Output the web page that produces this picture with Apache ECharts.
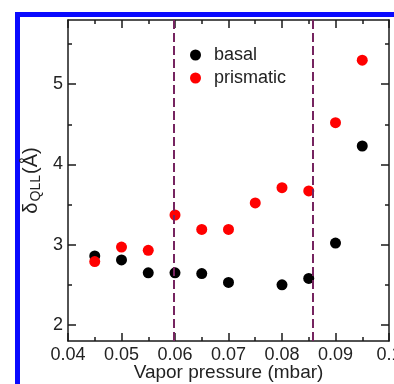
<!DOCTYPE html>
<html>
<head>
<meta charset="utf-8">
<script src="https://cdn.jsdelivr.net/npm/echarts@6/dist/echarts.min.js"></script>
<style>
  html, body { margin: 0; padding: 0; background: #fff; }
  #chart { width: 394px; height: 384px; }
</style>
</head>
<body>
<div id="chart"></div>
<script>
// Vapor pressure (mbar) at which each thickness was measured
const pressureBasal = [0.045, 0.05, 0.055, 0.06, 0.065, 0.07, 0.08, 0.085, 0.09, 0.095];
const basal = [2.86, 2.81, 2.65, 2.65, 2.64, 2.53, 2.50, 2.58, 3.02, 4.23];
const pressurePrismatic = [0.045, 0.05, 0.055, 0.06, 0.065, 0.07, 0.075, 0.08, 0.085, 0.09, 0.095];
const prismatic = [2.79, 2.97, 2.93, 3.37, 3.19, 3.19, 3.52, 3.71, 3.67, 4.52, 5.30];

// Regime boundaries (dashed vertical lines)
const boundaries = [0.0597, 0.0858];

// Axis ticks
const xMajor = [0.04, 0.05, 0.06, 0.07, 0.08, 0.09, 0.1];
const xMinor = [0.045, 0.055, 0.065, 0.075, 0.085, 0.095];
const yMajor = [2, 3, 4, 5];
const yMinor = [2.5, 3.5, 4.5, 5.5];

const X_MIN = 0.04, X_MAX = 0.1, Y_MIN = 1.8, Y_MAX = 5.8;
const FONT = 'Liberation Sans, Arial, Helvetica, sans-serif';
const AXIS_COLOR = '#1a1a1a';
const TEXT_COLOR = '#222';

function xAxisDef(pos, ticks, len, showLabel, showLine) {
  return {
    type: 'value', position: pos, min: X_MIN, max: X_MAX,
    axisLine: { show: showLine, onZero: false, lineStyle: { color: AXIS_COLOR, width: 1.5 } },
    axisTick: { show: true, inside: true, length: len, customValues: ticks,
                lineStyle: { color: AXIS_COLOR, width: 1.5 } },
    axisLabel: { show: showLabel, customValues: ticks, margin: 5,
                 fontSize: 18, fontFamily: FONT, color: TEXT_COLOR,
                 hideOverlap: false,
                 formatter: v => String(parseFloat(v.toFixed(3))) },
    splitLine: { show: false }
  };
}
function yAxisDef(pos, ticks, len, showLabel, showLine) {
  return {
    type: 'value', position: pos, min: Y_MIN, max: Y_MAX,
    axisLine: { show: showLine, onZero: false, lineStyle: { color: AXIS_COLOR, width: 1.5 } },
    axisTick: { show: true, inside: true, length: len, customValues: ticks,
                lineStyle: { color: AXIS_COLOR, width: 1.5 } },
    axisLabel: { show: showLabel, customValues: ticks, margin: 5,
                 fontSize: 18, fontFamily: FONT, color: TEXT_COLOR },
    splitLine: { show: false }
  };
}

const xAxes = [
  xAxisDef('bottom', xMajor, 8, true, true),
  xAxisDef('bottom', xMinor, 4, false, false),
  xAxisDef('top', xMajor, 8, false, true),
  xAxisDef('top', xMinor, 4, false, false)
];
Object.assign(xAxes[0], {
  name: 'Vapor pressure (mbar)', nameLocation: 'middle', nameGap: 22, nameMoveOverlap: false,
  nameTextStyle: { fontSize: 19, fontFamily: FONT, color: TEXT_COLOR }
});

const yAxes = [
  yAxisDef('left', yMajor, 8, true, true),
  yAxisDef('left', yMinor, 4, false, false),
  yAxisDef('right', yMajor, 8, false, true),
  yAxisDef('right', yMinor, 4, false, false)
];
Object.assign(yAxes[0], {
  name: '{d|δ}{s|QLL}{d|(Å)}', nameLocation: 'middle', nameGap: 25, nameMoveOverlap: false,
  nameTextStyle: {
    fontFamily: FONT, color: TEXT_COLOR,
    rich: {
      d: { fontSize: 20, fontFamily: FONT, color: TEXT_COLOR },
      s: { fontSize: 14, fontFamily: FONT, color: TEXT_COLOR, padding: [9, 1, 0, 1] }
    }
  }
});

const chart = echarts.init(document.getElementById('chart'), null, { renderer: 'canvas' });
chart.setOption({
  animation: false,
  backgroundColor: '#fff',
  grid: { left: 68, right: 5, top: 20, bottom: 43, containLabel: false, outerBoundsMode: 'none' },
  xAxis: xAxes,
  yAxis: yAxes,
  legend: {
    orient: 'vertical', left: 185, top: 41,
    itemWidth: 11, itemHeight: 11, itemGap: 5,
    textStyle: { fontSize: 18, fontFamily: FONT, color: TEXT_COLOR, lineHeight: 18, padding: [0, 0, 0, 8] },
    data: [{ name: 'basal', icon: 'circle' }, { name: 'prismatic', icon: 'circle' }]
  },
  graphic: [
    // frame accent along the top and left edges
    { type: 'rect', shape: { x: 15, y: 12, width: 379, height: 5 }, style: { fill: '#0a0aff' }, z: -1 },
    { type: 'rect', shape: { x: 15, y: 12, width: 5, height: 372 }, style: { fill: '#0a0aff' }, z: -1 }
  ],
  series: [
    {
      name: 'basal', type: 'scatter', symbol: 'circle', symbolSize: 11,
      itemStyle: { color: '#000', opacity: 1 },
      data: pressureBasal.map((p, i) => [p, basal[i]]),
      markLine: {
        silent: true, symbol: 'none', label: { show: false }, precision: 5,
        lineStyle: { color: '#762460', width: 2, type: [9, 4] },
        data: boundaries.map(b => ({ xAxis: b }))
      },
      z: 3
    },
    {
      name: 'prismatic', type: 'scatter', symbol: 'circle', symbolSize: 11,
      itemStyle: { color: '#ff0000', opacity: 1 },
      data: pressurePrismatic.map((p, i) => [p, prismatic[i]]),
      z: 4
    }
  ]
});
</script>
</body>
</html>
